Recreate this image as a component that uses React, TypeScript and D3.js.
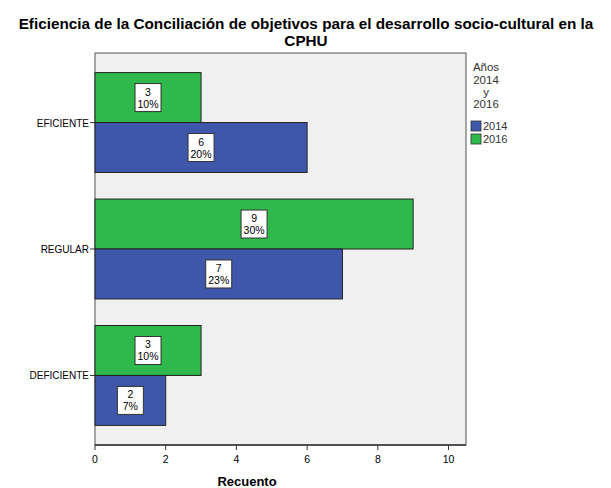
import React from "react";
import * as d3 from "d3";

const categories = ["EFICIENTE", "REGULAR", "DEFICIENTE"];
const series = ["2016", "2014"];
const values2014 = [6, 7, 2];
const values2016 = [3, 9, 3];
const pct2014 = ["20%", "23%", "7%"];
const pct2016 = ["10%", "30%", "10%"];
const xTicks = [0, 2, 4, 6, 8, 10];
const colors: Record<string, string> = { "2014": "#3e57ab", "2016": "#2fb84b" };

export default function App() {
  const W = 611, H = 488;
  const left = 95, right = 466, top = 53, bottom = 445;
  const x = d3.scaleLinear().domain([0, 10]).range([left, left + 353.5]);
  const y = d3.scaleBand<string>().domain(categories).range([top, bottom]).paddingInner(0.21).paddingOuter(0.155);
  const y2 = d3.scaleBand<string>().domain(series).range([0, y.bandwidth()]);
  const font = "'Liberation Sans', Arial, sans-serif";
  const rows = categories.map((c, i) => ({
    c,
    bars: [
      { s: "2016", v: values2016[i], p: pct2016[i] },
      { s: "2014", v: values2014[i], p: pct2014[i] },
    ],
  }));
  return (
    <svg width={W} height={H} style={{ position: "absolute", left: 0, top: 0 }} fontFamily={font}>
      <rect x={0} y={0} width={W} height={H} fill="#fff" />
      <text x={306} y={28.5} textAnchor="middle" fontSize={15.3} fontWeight="bold">
        Eficiencia de la Conciliación de objetivos para el desarrollo socio-cultural en la
      </text>
      <text x={306} y={45.5} textAnchor="middle" fontSize={15.3} fontWeight="bold">CPHU</text>
      <rect x={left} y={top} width={right - left} height={bottom - top} fill="#f0f0f0" stroke="#555" strokeWidth={1} />
      {rows.map((r) => (
        <g key={r.c}>
          {r.bars.map((b) => {
            const y0 = (y(r.c) as number) + (y2(b.s) as number);
            const h = y2.bandwidth();
            const cx = (x(0) + x(b.v)) / 2;
            const cy = y0 + h / 2;
            return (
              <g key={b.s}>
                <rect x={x(0)} y={y0} width={x(b.v) - x(0)} height={h} fill={colors[b.s]} stroke="#222" strokeWidth={1} />
                <rect x={cx - 13} y={cy - 14} width={26} height={28} fill="#fff" stroke="#333" strokeWidth={1} />
                <text x={cx} y={cy - 2} textAnchor="middle" fontSize={10.5}>{b.v}</text>
                <text x={cx} y={cy + 10} textAnchor="middle" fontSize={10.5}>{b.p}</text>
              </g>
            );
          })}
          <line x1={left - 5} x2={left} y1={(y(r.c) as number) + y.bandwidth() / 2} y2={(y(r.c) as number) + y.bandwidth() / 2} stroke="#333" />
          <text x={left - 6} y={(y(r.c) as number) + y.bandwidth() / 2 + 4} textAnchor="end" fontSize={10}>{r.c}</text>
        </g>
      ))}
      <line x1={left} x2={right} y1={bottom} y2={bottom} stroke="#333" strokeWidth={1.5} />
      {xTicks.map((t) => (
        <g key={t}>
          <line x1={x(t)} x2={x(t)} y1={bottom} y2={bottom + 5} stroke="#333" />
          <text x={x(t)} y={bottom + 18} textAnchor="middle" fontSize={10.5}>{t}</text>
        </g>
      ))}
      <text x={x(4.3)} y={486} textAnchor="middle" fontSize={13} fontWeight="bold">Recuento</text>
      <g fontSize={11.5} fill="#333">
        <text x={486} y={71} textAnchor="middle">Años</text>
        <text x={486} y={84} textAnchor="middle">2014</text>
        <text x={486} y={96} textAnchor="middle">y</text>
        <text x={486} y={108} textAnchor="middle">2016</text>
        {["2014", "2016"].map((s, i) => (
          <g key={s}>
            <rect x={471} y={121 + i * 13} width={10} height={10} fill={colors[s]} stroke="#333" strokeWidth={0.8} />
            <text x={483} y={130 + i * 13} fontSize={11}>{s}</text>
          </g>
        ))}
      </g>
    </svg>
  );
}
